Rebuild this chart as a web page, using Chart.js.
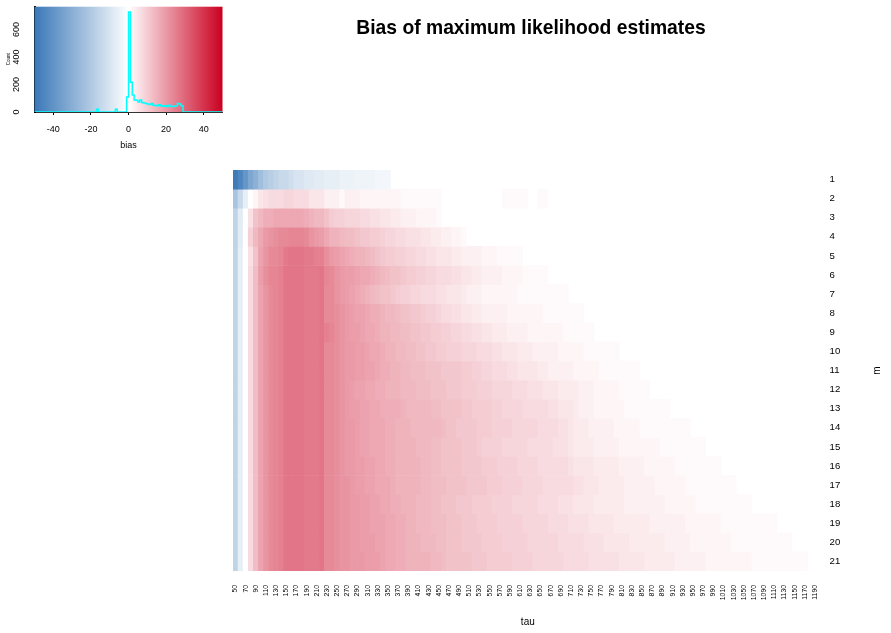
<!DOCTYPE html>
<html>
<head>
<meta charset="utf-8">
<title>Bias of maximum likelihood estimates</title>
<script src="https://cdn.jsdelivr.net/npm/chart.js@4.4.1/dist/chart.umd.min.js"></script>
<style>
  html, body { margin: 0; padding: 0; background: #fff; overflow: hidden; }
  #wrap { position: relative; width: 891px; height: 633px; }
  #heat, #key { position: absolute; left: 0; top: 0; }
</style>
</head>
<body>
<div id="wrap">
  <canvas id="heat" width="891" height="633"></canvas>
  <canvas id="key" width="230" height="160"></canvas>
</div>
<script>
// DATA
const mainTitle = "Bias of maximum likelihood estimates";

const taus = [50, 60, 70, 80, 90, 100, 110, 120, 130, 140, 150, 160, 170, 180, 190, 200, 210, 220, 230, 240,
  250, 260, 270, 280, 290, 300, 310, 320, 330, 340, 350, 360, 370, 380, 390, 400, 410, 420, 430, 440,
  450, 460, 470, 480, 490, 500, 510, 520, 530, 540, 550, 560, 570, 580, 590, 600, 610, 620, 630, 640,
  650, 660, 670, 680, 690, 700, 710, 720, 730, 740, 750, 760, 770, 780, 790, 800, 810, 820, 830, 840,
  850, 860, 870, 880, 890, 900, 910, 920, 930, 940, 950, 960, 970, 980, 990, 1000, 1010, 1020, 1030, 1040,
  1050, 1060, 1070, 1080, 1090, 1100, 1110, 1120, 1130, 1140, 1150, 1160, 1170, 1180, 1190, 1200];

const rowsM = [1, 2, 3, 4, 5, 6, 7, 8, 9, 10, 11, 12, 13, 14, 15, 16, 17, 18, 19, 20, 21];

// bias per m (one array per row, one value per tau, null = not estimated)
const m1 = [-49,-45,-39,-33,-29,-24,-20,-18,-16,-14, -14,-12,-10,-10,-8,-8,-7,-7,-6,-6,
  -6,-5,-5,-5,-4,-4,-4,-4,-3,-3, -3];
const m2 = [-22,-14,-6,0,2,5,6,7,7,7, 8,8,7,7,7,5,5,5,3,3, 3,1,3,3,3,2,2,2,2,2, 2,2,2,1,1,1,1,1,1,1,
  1,null,null,null,null,null,null,null,null,null, null,null,null,1,1,1,1,1,null,null, 1,1];
const m3 = [-16,-7,0,6,12,14,16,16,17,17, 17,17,17,17,16,15,14,14,12,10, 9,9,8,8,8,7,7,6,6,5,
  5,4,4,3,3,3,2,2,2,2, 1];
const m4 = [-16,-7,0,9,14,17,20,21,22,23, 23,24,24,24,23,21,20,19,17,15, 15,14,13,13,12,11,11,10,10,9,
  8,8,7,7,6,6,6,5,5,4, 4,3,3,2,2,1];
const m5 = [-16,-6,0,6,12,18,21,23,23,24, 26,27,27,27,26,26,25,25,22,20, 19,18,17,16,15,15,14,13,12,11,
  10,10,9,9,8,8,7,7,6,6, 5,5,5,4,4,3,3,3,3,2, 2,2,1,1,1,1,1];
const m6 = [-16,-6,0,7,13,19,22,24,24,25, 27,27,27,27,26,26,26,27,24,23, 21,20,19,19,18,17,17,16,15,14,
  13,12,12,11,10,10,9,9,8,8, 7,7,7,6,6,5,5,4,4,3, 3,3,3,2,2,2,2,1,1,1, 1,1];
const m7 = [-16,-6,0,7,13,18,21,23,24,25, 27,27,27,27,26,26,26,27,23,23, 21,20,19,18,17,16,15,14,13,12,
  12,11,10,9,9,8,8,7,7,7, 6,6,5,5,5,4,3,3,3,2, 2,2,2,2,2,2,1,1,1,1, 1,1,1,1,1,1];
const m8 = [-16,-6,0,7,13,18,21,23,24,25, 27,27,27,27,26,26,26,27,23,23, 22,21,20,19,18,18,17,16,16,15,
  14,14,13,12,12,11,11,10,9,9, 8,7,7,6,6,5,5,4,4,3, 3,3,3,3,2,2,2,2,2,2, 2,1,1,1,1,1,1,1,1];
const m9 = [-16,-6,0,7,13,18,21,23,24,25, 27,27,27,27,26,26,26,27,25,24, 22,21,20,19,19,18,17,17,16,15,
  15,14,14,13,13,12,12,11,11,10, 10,9,9,8,8,7,7,6,6,5, 5,4,4,4,3,3,3,3,2,2, 2,2,2,2,2,1,1,1,1,1, 1];
const m10 = [-16,-6,0,7,13,18,21,23,24,25, 27,27,27,27,26,26,26,27,23,23, 22,21,20,20,19,19,18,17,17,16,
  15,15,14,14,13,13,12,12,11,11, 10,10,9,9,9,8,8,8,7,7, 7,6,6,5,5,5,4,4,4,3, 3,3,3,3,2,2,2,2,2,1,
  1,1,1,1,1,1];
const m11 = [-16,-6,0,7,13,18,21,23,24,25, 27,27,27,27,26,26,26,27,23,23, 22,21,20,20,19,19,18,18,17,16,
  16,15,15,14,14,13,13,13,12,12, 12,11,11,11,11,10,10,9,9,8, 8,7,7,7,6,6,5,5,5,5, 4,4,3,3,3,3,3,2,2,2,
  2,2,1,1,1,1,1,1,1,1];
const m12 = [-16,-6,0,7,13,18,21,23,24,25, 27,27,27,27,26,26,26,27,23,23, 22,21,20,19,18,18,17,17,16,16,
  15,15,15,14,14,14,13,13,13,12, 12,12,11,11,11,10,10,10,9,9, 9,8,8,8,8,7,7,7,6,6, 6,5,5,5,4,4,4,4,3,3,
  3,2,2,2,2,2,1,1,1,1, 1,1];
const m13 = [-16,-6,0,7,13,18,21,23,24,25, 27,27,27,27,26,26,26,27,23,23, 22,21,20,19,19,18,18,17,17,16,
  16,16,16,15,14,14,14,14,14,13, 13,12,12,12,12,11,11,10,10,10, 10,9,9,8,8,8,8,7,7,7, 7,7,6,6,5,5,5,4,3,3,
  3,2,2,2,2,2,2,1,1,1, 1,1,1,1,1,1];
const m14 = [-16,-6,0,7,13,18,21,23,24,25, 27,27,27,27,26,26,26,27,23,23, 22,21,20,20,19,18,18,17,17,17,
  16,16,15,15,15,14,14,14,14,14, 14,13,12,12,11,11,11,11,10,10, 10,9,9,9,9,8,8,8,8,8, 7,7,7,7,6,6,5,4,4,4,
  3,3,3,3,3,2,2,2,2,2, 1,1,1,1,1,1,1,1,1,1];
const m15 = [-16,-6,0,7,13,18,21,23,24,25, 27,27,27,27,26,26,26,27,23,23, 22,21,20,20,19,18,18,17,17,17,
  16,16,15,15,15,15,14,14,14,13, 13,12,12,12,12,11,11,11,10,9, 9,9,9,8,8,8,8,8,7,7, 7,7,7,6,6,6,5,4,4,4,
  4,3,3,3,3,3,2,2,2,2, 2,2,2,2,1,1,1,1,1,1, 1,1,1];
const m16 = [-16,-6,0,7,13,18,21,23,24,25, 27,27,27,27,26,26,26,27,23,23, 22,21,20,20,19,19,18,18,17,17,
  16,16,15,15,15,15,15,14,14,13, 13,12,12,12,12,11,11,11,11,10, 10,10,9,9,9,9,8,8,8,8, 7,7,7,7,7,7,6,5,5,5,
  5,4,4,4,4,4,3,3,3,3, 3,2,2,2,2,2,2,1,1,1, 1,1,1,1,1,1];
const m17 = [-16,-6,0,7,13,18,21,23,24,25, 27,27,27,27,26,26,26,27,23,23, 22,21,21,20,19,19,18,18,17,17,
  17,16,15,15,15,15,15,14,14,13, 13,13,12,12,12,12,11,11,11,11, 10,10,10,9,9,9,9,8,8,8, 8,7,7,7,7,7,7,6,6,5,
  5,5,4,4,4,4,4,3,3,3, 3,3,3,2,2,2,2,2,2,1, 1,1,1,1,1,1,1,1,1];
const m18 = [-16,-6,0,7,13,18,21,23,24,25, 27,27,27,27,26,26,26,27,23,23, 22,21,21,20,20,19,19,18,18,17,
  17,16,16,15,15,15,14,14,14,13, 13,12,12,12,11,11,11,10,10,10, 10,9,9,9,9,8,8,8,8,8, 7,7,7,7,6,6,6,5,5,5,
  5,4,4,4,4,4,4,3,3,3, 3,3,3,3,3,2,2,2,2,2, 2,1,1,1,1,1,1,1,1,1, 1,1];
const m19 = [-16,-6,0,7,13,18,21,23,24,25, 27,27,27,27,26,26,26,27,23,23, 22,21,21,20,20,19,19,18,18,18,
  17,17,16,16,15,15,14,14,14,13, 13,13,12,12,12,11,11,11,10,10, 10,10,9,9,9,9,9,8,8,8, 8,8,7,7,7,7,6,6,6,6,
  5,5,5,5,5,4,4,4,4,4, 4,4,3,3,3,3,3,3,3,2, 2,2,2,2,2,2,1,1,1,1, 1,1,1,1,1,1,1];
const m20 = [-16,-6,0,7,13,18,21,23,24,25, 27,27,27,27,26,26,26,27,23,23, 22,21,21,20,20,19,19,19,18,18,
  17,17,16,16,15,15,15,14,14,14, 13,13,12,12,12,11,11,11,11,10, 10,10,10,9,9,9,9,9,8,8, 8,8,8,8,7,7,7,7,7,6,
  6,6,6,5,5,5,5,5,4,4, 4,4,4,4,4,3,3,3,3,3, 2,2,2,2,2,2,2,2,1,1, 1,1,1,1,1,1,1,1,1,1];
const m21 = [-16,-6,0,7,13,18,21,23,24,25, 27,27,27,27,26,26,26,27,23,23, 22,21,21,20,20,20,19,19,19,18,
  17,17,16,16,15,15,15,15,15,14, 14,13,12,12,12,12,12,11,11,11, 10,10,10,10,10,9,9,9,9,8, 8,8,8,8,8,7,7,7,7,7,
  6,6,6,6,6,6,5,5,5,5, 5,4,4,4,4,4,4,3,3,3, 3,3,3,2,2,2,2,2,2,2, 2,2,1,1,1,1,1,1,1,1, 1,1,1];

const heatRows = [m1, m2, m3, m4, m5, m6, m7, m8, m9, m10, m11, m12, m13, m14, m15, m16, m17, m18, m19, m20, m21];

// colour key histogram: bin edges and counts
const histBreaks = [-50,-49,-48,-47,-46,-45,-44,-43,-42,-41,-40,-39,-38,-37,-36,-35,-34,-33,-32,-31,
  -30,-29,-28,-27,-26,-25,-24,-23,-22,-21,-20,-19,-18,-17,-16,-15,-14,-13,-12,-11,
  -10,-9,-8,-7,-6,-5,-4,-3,-2,-1,0,1,2,3,4,5,6,7,8,9,10,11,12,13,14,15,16,17,18,19,
  20,21,22,23,24,25,26,27,28,29,30,31,32,33,34,35,36,37,38,39,40,41,42,43,44,45,46,47,48,49,50];
const histCounts = [0,0,0,0,0,0,0,0,0,0, 0,0,0,0,0,0,0,0,0,0, 0,0,0,0,0,0,0,0,0,0,
  0,0,0,20,0,0,0,0,0,0, 0,0,0,20,0,0,0,0,0,110,
  728,217,124,88,86,72,88,70,66,62, 58,55,62,50,48,46,52,45,42,45,
  40,50,42,40,42,45,62,58,45,0, 0,0,0,0,0,0,0,0,0,0, 0,0,0,0,0,0,0,0,0,0];
const keyRange = [-50, 50];
const keyTicks = [-40, -20, 0, 20, 40];
const countTicks = [0, 200, 400, 600];
const countMax = 766;

// COLOURS
const blueEnd = [58, 120, 184];
const redEnd = [202, 0, 32];
function biasColor(b) {
  if (b === null || b === undefined) return 'rgba(255,255,255,0)';
  const t = Math.min(Math.abs(b) / 50, 1);
  const end = b < 0 ? blueEnd : redEnd;
  const c = end.map(e => Math.round(255 + (e - 255) * t));
  return 'rgb(' + c.join(',') + ')';
}

Chart.defaults.font.family = '"Liberation Sans", Arial, Helvetica, sans-serif';
Chart.defaults.color = '#000';

function noPad(s) {
  s.paddingLeft = 0; s.paddingRight = 0; s.paddingTop = 0; s.paddingBottom = 0;
}

//HEATMAP
const heatText = {
  id: 'heatText',
  afterDraw(chart) {
    const ctx = chart.ctx, area = chart.chartArea;
    ctx.save();
    ctx.fillStyle = '#000';
    ctx.textAlign = 'center';
    ctx.textBaseline = 'middle';
    ctx.font = 'bold 19.3px "Liberation Sans", Arial, sans-serif';
    ctx.fillText(mainTitle, 531, 29);
    ctx.font = '10px "Liberation Sans", Arial, sans-serif';
    ctx.translate(877, (area.top + area.bottom) / 2);
    ctx.rotate(-Math.PI / 2);
    ctx.fillText('m', 0, 0);
    ctx.restore();
  }
};

new Chart(document.getElementById('heat'), {
  type: 'bar',
  data: {
    labels: taus,
    datasets: heatRows.map((row, r) => ({
      label: 'm = ' + rowsM[r],
      data: taus.map((t, c) => (row[c] === null || row[c] === undefined) ? null : [r, r + 1]),
      backgroundColor: taus.map((t, c) => biasColor(row[c])),
      borderWidth: 0,
      barPercentage: 1,
      categoryPercentage: 1,
      grouped: false
    }))
  },
  options: {
    responsive: false,
    animation: false,
    devicePixelRatio: 1,
    layout: { padding: { left: 233, top: 170, right: 0, bottom: 0 } },
    plugins: { legend: { display: false }, tooltip: { enabled: false } },
    scales: {
      x: {
        type: 'category',
        offset: true,
        grid: { display: false, drawTicks: false },
        border: { display: false },
        ticks: {
          autoSkip: false, minRotation: 90, maxRotation: 90, padding: 14,
          font: { size: 6.85 },
          callback: (v, i) => i % 2 === 0 ? taus[i] : ''
        },
        title: { display: true, text: 'tau', font: { size: 10 }, padding: { top: 0, bottom: 5 } },
        afterFit: s => { s.height = 62; noPad(s); }
      },
      y: {
        type: 'linear',
        position: 'right',
        reverse: true,
        min: 0,
        max: rowsM.length,
        grid: { display: false, drawTicks: false },
        border: { display: false },
        afterBuildTicks: s => { s.ticks = rowsM.map((m, i) => ({ value: i + 0.5 })); },
        ticks: { padding: 7, font: { size: 9.6 }, callback: v => rowsM[Math.floor(v)] },
        afterFit: s => { s.width = 68.4; noPad(s); }
      }
    }
  },
  plugins: [heatText]
});

//COLOUR KEY
const keyGradient = {
  id: 'keyGradient',
  beforeDatasetsDraw(chart) {
    const ctx = chart.ctx, area = chart.chartArea, x = chart.scales.x;
    const x0 = x.getPixelForValue(keyRange[0]), x1 = x.getPixelForValue(keyRange[1]);
    const g = ctx.createLinearGradient(x0, 0, x1, 0);
    g.addColorStop(0, biasColor(keyRange[0]));
    g.addColorStop(0.5, biasColor(0));
    g.addColorStop(1, biasColor(keyRange[1]));
    ctx.save();
    ctx.fillStyle = g;
    ctx.fillRect(area.left, area.top, area.right - area.left, area.bottom - area.top);
    ctx.restore();
  }
};

new Chart(document.getElementById('key'), {
  type: 'line',
  data: {
    datasets: [{
      label: 'Count',
      data: histBreaks.map((b, i) => ({ x: b, y: histCounts[Math.min(i, histCounts.length - 1)] })),
      stepped: true,
      borderColor: '#00FFFF',
      borderWidth: 1.5,
      pointRadius: 0,
      fill: false
    }]
  },
  options: {
    responsive: false,
    animation: false,
    devicePixelRatio: 1,
    layout: { padding: { left: 0, top: 6.7, right: 7.5, bottom: 0 } },
    plugins: { legend: { display: false }, tooltip: { enabled: false } },
    scales: {
      x: {
        type: 'linear',
        min: keyRange[0],
        max: keyRange[1],
        afterBuildTicks: s => { s.ticks = keyTicks.map(v => ({ value: v })); },
        grid: { drawOnChartArea: false, tickLength: 3, color: '#000' },
        border: { color: '#333', width: 1 },
        ticks: { padding: 9, font: { size: 9 } },
        title: { display: true, text: 'bias', font: { size: 9 }, padding: { top: 0, bottom: 9.5 } },
        afterFit: s => { s.height = 48; noPad(s); }
      },
      y: {
        type: 'linear',
        min: 0,
        max: countMax,
        afterBuildTicks: s => { s.ticks = countTicks.map(v => ({ value: v })); },
        grid: { display: false, drawTicks: false },
        border: { color: '#000', width: 2 },
        ticks: { minRotation: 90, maxRotation: 90, crossAlign: 'center', padding: 10, font: { size: 9 } },
        title: { display: true, text: 'Count', font: { size: 4.5 }, padding: { top: 6, bottom: 0 } },
        afterFit: s => { s.width = 34.5; noPad(s); }
      }
    }
  },
  plugins: [keyGradient]
});
</script>
</body>
</html>
